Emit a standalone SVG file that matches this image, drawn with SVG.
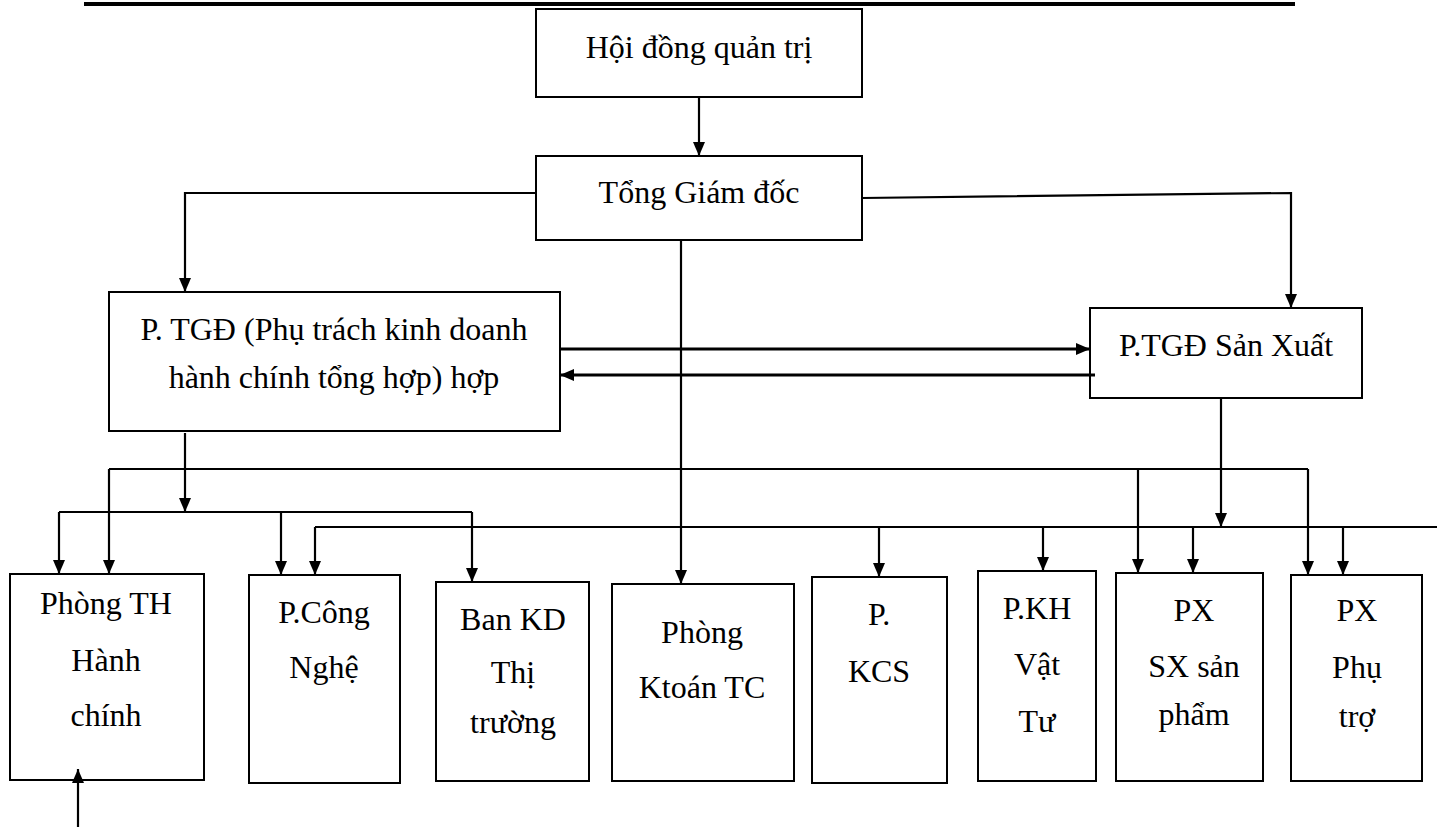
<svg xmlns="http://www.w3.org/2000/svg" width="1437" height="827" viewBox="0 0 1437 827">
<style>
.box{fill:#fff;stroke:#000;stroke-width:2}
.t{font-family:'Liberation Serif','Times New Roman','DejaVu Serif',serif;font-size:32px;fill:#000;text-anchor:middle}
.c{fill:none;stroke:#000;stroke-width:2.2}
.ca{fill:none;stroke:#000;stroke-width:2.2;marker-end:url(#ah)}
.cb{fill:none;stroke:#000;stroke-width:3;marker-end:url(#ah)}
</style>
<defs>
<marker id="ah" viewBox="0 0 14 12" refX="14" refY="6" markerWidth="14" markerHeight="12" markerUnits="userSpaceOnUse" orient="auto">
<path d="M0,0 L14,6 L0,12 z" fill="#000"/>
</marker>
</defs>
<rect x="0" y="0" width="1437" height="827" fill="#fff"/>
<rect id="topbar" x="84" y="2" width="1211" height="4" fill="#000"/>

<g id="hoi_dong_quan_tri">
<rect class="box" x="536" y="9" width="326" height="88"/>
<text class="t" x="699" y="58" font-family="Liberation Serif, serif">Hội đồng quản trị</text>
</g>
<g id="tong_giam_doc">
<rect class="box" x="536" y="156" width="326" height="84"/>
<text class="t" x="699" y="203" font-family="Liberation Serif, serif">Tổng Giám đốc</text>
</g>
<g id="ptgd_kinh_doanh">
<rect class="box" x="109" y="292" width="451" height="139"/>
<text class="t" x="334" y="340" font-family="Liberation Serif, serif">P. TGĐ (Phụ trách kinh doanh</text>
<text class="t" x="334" y="388" font-family="Liberation Serif, serif">hành chính tổng hợp) hợp</text>
</g>
<g id="ptgd_san_xuat">
<rect class="box" x="1090" y="308" width="272" height="90"/>
<text class="t" x="1226" y="356" font-family="Liberation Serif, serif">P.TGĐ Sản Xuất</text>
</g>
<g id="phong_th_hanh_chinh">
<rect class="box" x="10" y="574" width="194" height="206"/>
<text class="t" x="106" y="614" font-family="Liberation Serif, serif">Phòng TH</text>
<text class="t" x="106" y="671" font-family="Liberation Serif, serif">Hành</text>
<text class="t" x="106" y="726" font-family="Liberation Serif, serif">chính</text>
</g>
<g id="p_cong_nghe">
<rect class="box" x="249" y="575" width="151" height="208"/>
<text class="t" x="324" y="623" font-family="Liberation Serif, serif">P.Công</text>
<text class="t" x="324" y="678" font-family="Liberation Serif, serif">Nghệ</text>
</g>
<g id="ban_kd_thi_truong">
<rect class="box" x="436" y="582" width="153" height="199"/>
<text class="t" x="513" y="630" font-family="Liberation Serif, serif">Ban KD</text>
<text class="t" x="513" y="683" font-family="Liberation Serif, serif">Thị</text>
<text class="t" x="513" y="733" font-family="Liberation Serif, serif">trường</text>
</g>
<g id="phong_ktoan_tc">
<rect class="box" x="612" y="584" width="182" height="197"/>
<text class="t" x="702" y="643" font-family="Liberation Serif, serif">Phòng</text>
<text class="t" x="702" y="698" font-family="Liberation Serif, serif">Ktoán TC</text>
</g>
<g id="p_kcs">
<rect class="box" x="812" y="577" width="135" height="206"/>
<text class="t" x="879" y="625" font-family="Liberation Serif, serif">P.</text>
<text class="t" x="879" y="682" font-family="Liberation Serif, serif">KCS</text>
</g>
<g id="p_kh_vat_tu">
<rect class="box" x="978" y="571" width="118" height="210"/>
<text class="t" x="1037" y="619" font-family="Liberation Serif, serif">P.KH</text>
<text class="t" x="1037" y="675" font-family="Liberation Serif, serif">Vật</text>
<text class="t" x="1037" y="732" font-family="Liberation Serif, serif">Tư</text>
</g>
<g id="px_sx_san_pham">
<rect class="box" x="1116" y="573" width="147" height="208"/>
<text class="t" x="1194" y="621" font-family="Liberation Serif, serif">PX</text>
<text class="t" x="1194" y="677" font-family="Liberation Serif, serif">SX sản</text>
<text class="t" x="1194" y="725" font-family="Liberation Serif, serif">phẩm</text>
</g>
<g id="px_phu_tro">
<rect class="box" x="1291" y="575" width="131" height="206"/>
<text class="t" x="1357" y="621" font-family="Liberation Serif, serif">PX</text>
<text class="t" x="1357" y="678" font-family="Liberation Serif, serif">Phụ</text>
<text class="t" x="1357" y="727" font-family="Liberation Serif, serif">trợ</text>
</g>

<g id="connectors">
<path class="ca" d="M699,97 V156"/>
<path class="ca" d="M536,193 H185 V292"/>
<path class="ca" d="M862,198 L1291,193 V308"/>
<path class="ca" d="M681,240 V584"/>
<path class="cb" d="M560,349 H1090"/>
<path class="cb" d="M1095,375 H560"/>
<path class="ca" d="M185,433 V512"/>
<path class="c" d="M59,512 H472"/>
<path class="ca" d="M59,512 V574"/>
<path class="ca" d="M281,512 V575"/>
<path class="ca" d="M472,512 V582"/>
<path class="c" d="M109,469 H1308"/>
<path class="ca" d="M109,469 V574"/>
<path class="ca" d="M1138,469 V573"/>
<path class="ca" d="M1308,469 V575"/>
<path class="ca" d="M1221,398 V527"/>
<path class="c" d="M315,527 H1437"/>
<path class="ca" d="M315,527 V575"/>
<path class="ca" d="M879,527 V577"/>
<path class="ca" d="M1043,527 V571"/>
<path class="ca" d="M1193,527 V573"/>
<path class="ca" d="M1343,527 V575"/>
<path class="ca" d="M78,827 V769"/>
</g>
</svg>
